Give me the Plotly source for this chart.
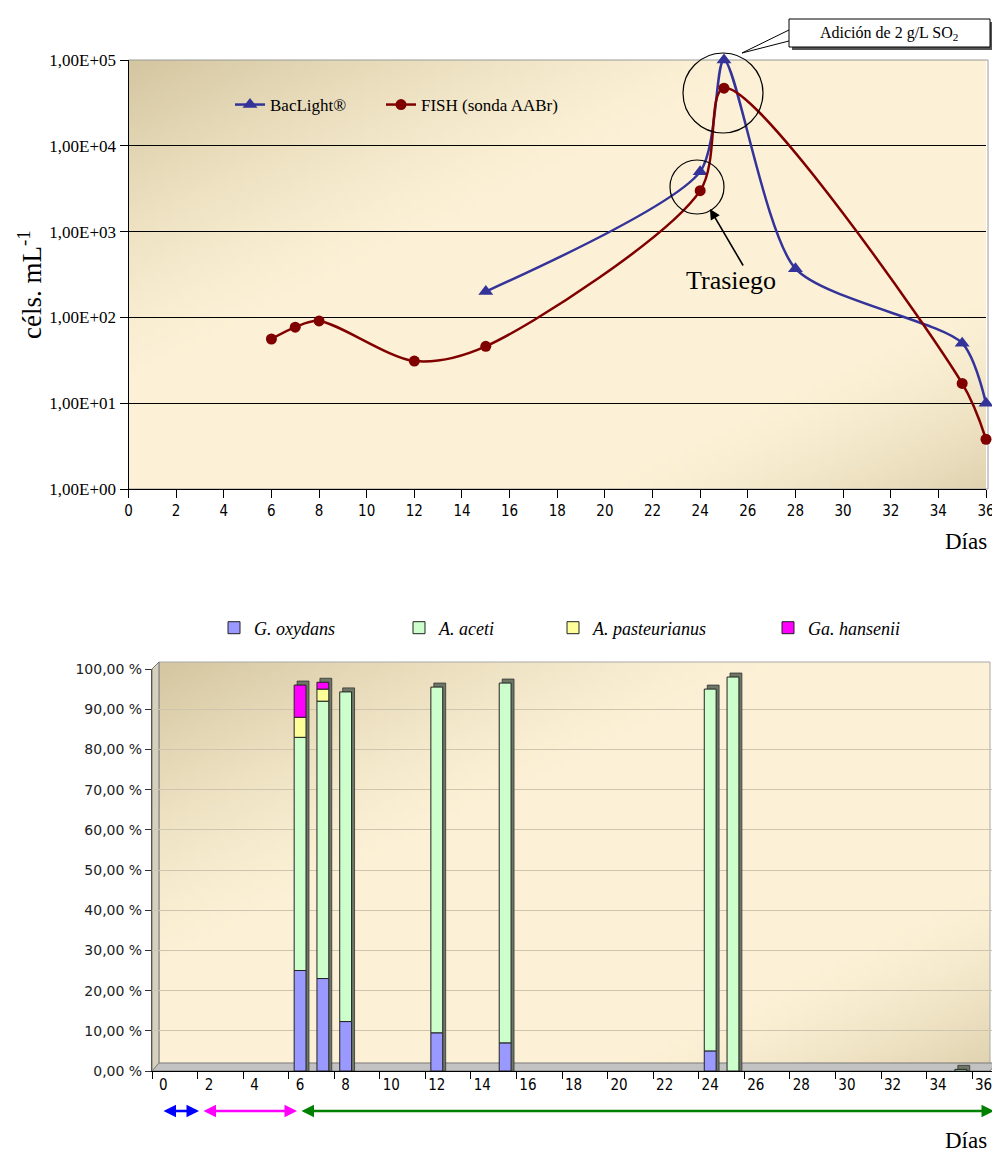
import zlib, struct, base64
import plotly.graph_objects as go

# ---------------- data ----------------
days_bac = [15, 24, 25, 28, 35, 36]
bacl = [200, 5000, 100000, 370, 50, 10]
days_fish = [6, 7, 8, 12, 15, 24, 25, 35, 36]
fish = [56, 77, 91, 31, 46, 3000, 47000, 17, 3.8]

top_yvals = [1, 10, 100, 1000, 10000, 100000]
top_ylabels = ["1,00E+00", "1,00E+01", "1,00E+02", "1,00E+03", "1,00E+04", "1,00E+05"]
top_xticks = list(range(0, 37, 2))

days_bar = [6, 7, 8, 12, 15, 24, 25, 35]
g_oxydans = [25, 23, 12.3, 9.5, 7, 5, 0, 0]
a_aceti = [58, 69, 82, 86, 89.5, 90, 98, 0.4]
a_pasteurianus = [5, 3, 0, 0, 0, 0, 0, 0]
ga_hansenii = [8, 1.7, 0, 0, 0, 0, 0, 0]

bot_yvals = list(range(0, 101, 10))
bot_ylabels = ["0,00 %", "10,00 %", "20,00 %", "30,00 %", "40,00 %", "50,00 %",
               "60,00 %", "70,00 %", "80,00 %", "90,00 %", "100,00 %"]
bot_xticks = list(range(0, 37, 2))

# page body has an 8px margin: the figure is sized so that it fills the window
OFF = 8
W, H = 1000 - OFF, 1155 - OFF
def px(x): return (x - OFF) / W
def py(y): return 1 - (y - OFF) / H

SERIF = "Liberation Serif, Times New Roman, serif"
NARROW = "Liberation Sans Narrow, DejaVu Sans Condensed, Arial Narrow, sans-serif"
SANS = "DejaVu Sans, Verdana, sans-serif"

# ---------------- gradient background image ----------------
def png_uri(w, h, fn):
    raw = bytearray()
    for j in range(h):
        raw.append(0)
        for i in range(w):
            raw += bytes(fn(i / (w - 1), j / (h - 1)))
    def chunk(t, d):
        c = struct.pack('>I', len(d)) + t + d
        return c + struct.pack('>I', zlib.crc32(t + d) & 0xffffffff)
    png = (b'\x89PNG\r\n\x1a\n'
           + chunk(b'IHDR', struct.pack('>IIBBBBB', w, h, 8, 2, 0, 0, 0))
           + chunk(b'IDAT', zlib.compress(bytes(raw), 9))
           + chunk(b'IEND', b''))
    return 'data:image/png;base64,' + base64.b64encode(png).decode()

def grad(u, v):
    light = (252, 241, 214)
    dark1 = (212, 198, 160)
    dark2 = (220, 206, 170)
    s = u + v
    w1 = max(0.0, min(1.0, 1 - s / 0.75)) ** 1.4
    w2 = max(0.0, min(1.0, (s - 1.55) / 0.45)) ** 1.5 * 0.85
    w0 = 1 - w1 - w2
    return tuple(int(round(light[k] * w0 + dark1[k] * w1 + dark2[k] * w2)) for k in range(3))

bg = png_uri(120, 60, grad)

fig = go.Figure()

# ---------------- top chart ----------------
fig.add_trace(go.Scatter(
    x=days_bac, y=bacl, name="BacLight®", mode="lines+markers",
    line=dict(color="#333399", width=2.5, shape="spline", smoothing=0.7),
    marker=dict(symbol="triangle-up", size=13, color="#333399"),
    cliponaxis=False, xaxis="x", yaxis="y", legend="legend"))
fig.add_trace(go.Scatter(
    x=days_fish, y=fish, name="FISH (sonda AABr)", mode="lines+markers",
    line=dict(color="#800000", width=2.5, shape="spline", smoothing=0.85),
    marker=dict(symbol="circle", size=11, color="#800000"),
    cliponaxis=False, xaxis="x", yaxis="y", legend="legend6"))

# ---------------- bottom chart (overlay with explicit bases = stack) ----------------
series = [("G. oxydans", g_oxydans, "#9999ff", "legend2"),
          ("A. aceti", a_aceti, "#ccffcc", "legend3"),
          ("A. pasteurianus", a_pasteurianus, "#ffff99", "legend4"),
          ("Ga. hansenii", ga_hansenii, "#ff00ff", "legend5")]
totals = [sum(s[1][i] for s in series) for i in range(len(days_bar))]
BW = 0.52
# 3D depth (side/top face) drawn behind each stack
fig.add_trace(go.Bar(
    x=days_bar, y=[t + 1.0 for t in totals], base=0, width=BW, offset=-BW / 2 + 0.13,
    marker=dict(color="#6e7766", line=dict(color="#333", width=0.8)),
    showlegend=False, hoverinfo="skip", xaxis="x2", yaxis="y2"))
base = [0.0] * len(days_bar)
for name, vals, col, lg in series:
    yv = [v if v > 0 else None for v in vals]
    fig.add_trace(go.Bar(
        x=days_bar, y=yv, base=list(base), name=name, width=BW, offset=-BW / 2,
        marker=dict(color=col, line=dict(color="#222222", width=1)),
        xaxis="x2", yaxis="y2", legend=lg))
    base = [b + v for b, v in zip(base, vals)]

top_l, top_r, top_t, top_b = 128.5, 986, 60, 489
bot_l, bot_r, bot_t, bot_b = 152, 995, 669, 1071

fig.update_layout(
    width=W, height=H, margin=dict(l=0, r=0, t=0, b=0, autoexpand=False),
    paper_bgcolor="white", plot_bgcolor="rgba(0,0,0,0)",
    barmode="overlay",
    xaxis=dict(domain=[px(top_l), px(top_r)], range=[0, 36], tickmode="array",
               tickvals=top_xticks, ticks="outside", ticklen=8, tickcolor="black",
               showline=True, linecolor="black", linewidth=1, showgrid=False,
               zeroline=False, automargin=False,
               tickfont=dict(family=NARROW, size=15, color="black"), anchor="y"),
    yaxis=dict(domain=[py(top_b), py(top_t)], type="log", range=[0, 5],
               tickmode="array", tickvals=top_yvals, ticktext=top_ylabels,
               ticks="outside", ticklen=8, tickcolor="black", showline=True,
               linecolor="black", linewidth=1, showgrid=True, gridcolor="black",
               gridwidth=1, zeroline=False, automargin=False,
               tickfont=dict(family=SERIF, size=17, color="black"), anchor="x"),
    xaxis2=dict(domain=[px(bot_l), px(bot_r)], range=[-0.5, 36.5], tickmode="array",
                tickvals=bot_xticks, ticks="", showline=True, linecolor="black",
                linewidth=1, showgrid=False, zeroline=False, automargin=False,
                minor=dict(tickmode="array", tickvals=[t - 0.5 for t in bot_xticks],
                           ticks="outside", ticklen=7, tickcolor="black", showgrid=False),
                tickfont=dict(family=NARROW, size=15, color="black"), anchor="y2"),
    yaxis2=dict(domain=[py(bot_b), py(bot_t)], range=[0, 100], tickmode="array",
                tickvals=bot_yvals, ticktext=bot_ylabels, ticks="outside", ticklen=6,
                tickcolor="#333", showline=True, linecolor="#555", linewidth=1,
                showgrid=True, gridcolor="#cdc5ae", gridwidth=1, zeroline=False,
                automargin=False,
                tickfont=dict(family=SANS, size=14, color="#222"), anchor="x2"),
    showlegend=True,
)

top_leg = {"legend": 230, "legend6": 381}
for lg, xx in top_leg.items():
    fig.update_layout({lg: dict(orientation="h", x=px(xx), y=py(105), xanchor="left",
                                yanchor="middle", bgcolor="rgba(0,0,0,0)",
                                font=dict(family=SERIF, size=17, color="black"),
                                itemwidth=30)})
bot_leg = {"legend2": 214, "legend3": 399, "legend4": 553, "legend5": 768}
for lg, xx in bot_leg.items():
    fig.update_layout({lg: dict(orientation="h", x=px(xx), y=py(628), xanchor="left",
                                yanchor="middle", bgcolor="rgba(0,0,0,0)",
                                font=dict(family=SERIF, size=18, color="black",
                                          style="italic"),
                                itemwidth=30)})

# background gradient images
fig.add_layout_image(source=bg, xref="paper", yref="paper", x=px(top_l), y=py(top_t),
                     sizex=px(top_r) - px(top_l), sizey=py(top_t) - py(top_b),
                     sizing="stretch", layer="below", xanchor="left", yanchor="top")
fig.add_layout_image(source=bg, xref="paper", yref="paper", x=px(159), y=py(662),
                     sizex=px(990) - px(159), sizey=py(662) - py(1066),
                     sizing="stretch", layer="below", xanchor="left", yanchor="top")

shapes = []
def rect(x0, y0, x1, y1, **kw):
    d = dict(type="rect", xref="paper", yref="paper", x0=px(x0), x1=px(x1),
             y0=py(y0), y1=py(y1))
    d.update(kw)
    shapes.append(d)

def path(pts, **kw):
    s = "M " + " L ".join(f"{px(a):.5f},{py(b):.5f}" for a, b in pts)
    if kw.pop("close", False):
        s += " Z"
    d = dict(type="path", xref="paper", yref="paper", path=s)
    d.update(kw)
    shapes.append(d)

# top chart frame (grey right/top)
rect(top_l, top_t, top_r + 2, top_b, line=dict(color="#9a9a9a", width=1), layer="below")

# circles
shapes.append(dict(type="circle", xref="paper", yref="paper", x0=px(683), x1=px(763),
                   y0=py(53), y1=py(133), line=dict(color="black", width=1.2)))
shapes.append(dict(type="circle", xref="paper", yref="paper", x0=px(670), x1=px(724),
                   y0=py(160), y1=py(214), line=dict(color="black", width=1.2)))
# callout box
rect(792, 22, 993, 50, fillcolor="#555", line=dict(width=0))
rect(789, 19, 990, 47, fillcolor="white", line=dict(color="black", width=1))
path([(789, 30), (742, 53), (789, 41)], line=dict(color="black", width=1))

# bottom chart 3D wall / floor
rect(159, 662, 990, 1066, line=dict(color="#a8a8a8", width=1), layer="below")
path([(152, 669), (159, 662), (159, 1064), (152, 1071)], close=True,
     fillcolor="#d6d0bd", line=dict(color="#777", width=1), layer="below")
path([(152, 1071), (159, 1063), (997, 1063), (990, 1071)], close=True,
     fillcolor="#c2c2c2", line=dict(color="#7a7a7a", width=1), layer="below")

fig.update_layout(shapes=shapes)

def txt(text, x, y, size, **kw):
    d = dict(text=text, xref="paper", yref="paper", x=px(x), y=py(y), showarrow=False,
             xanchor="center", yanchor="middle",
             font=dict(family=SERIF, size=size, color="black"))
    d.update(kw)
    return d

ann = [
    txt("Adición de 2 g/L SO<sub>2</sub>", 889, 33, 16),
    txt("Trasiego", 731, 281, 26),
    txt("céls. mL<sup>-1</sup>", 30, 285, 27, textangle=-90),
    txt("Días", 966, 541, 23),
    txt("Días", 966, 1140, 23),
    dict(text="", xref="paper", yref="paper", x=px(710), y=py(209),
         ax=34, ay=58, showarrow=True, arrowhead=2, arrowsize=1.3,
         arrowwidth=1.6, arrowcolor="black"),
]
# phase arrows under bottom axis
for x0, x1, col in [(162, 199, "#0000ff"), (202, 297, "#ff00ff"), (300, 994, "#008000")]:
    ann.append(dict(text="", xref="paper", yref="paper", x=px(x1), y=py(1111),
                    ax=x0 - x1, ay=0, showarrow=True, arrowhead=2, arrowside="end+start",
                    arrowsize=1, arrowwidth=2.5, arrowcolor=col, standoff=0,
                    startstandoff=0))
fig.update_layout(annotations=ann)

fig.write_html("out.html")
